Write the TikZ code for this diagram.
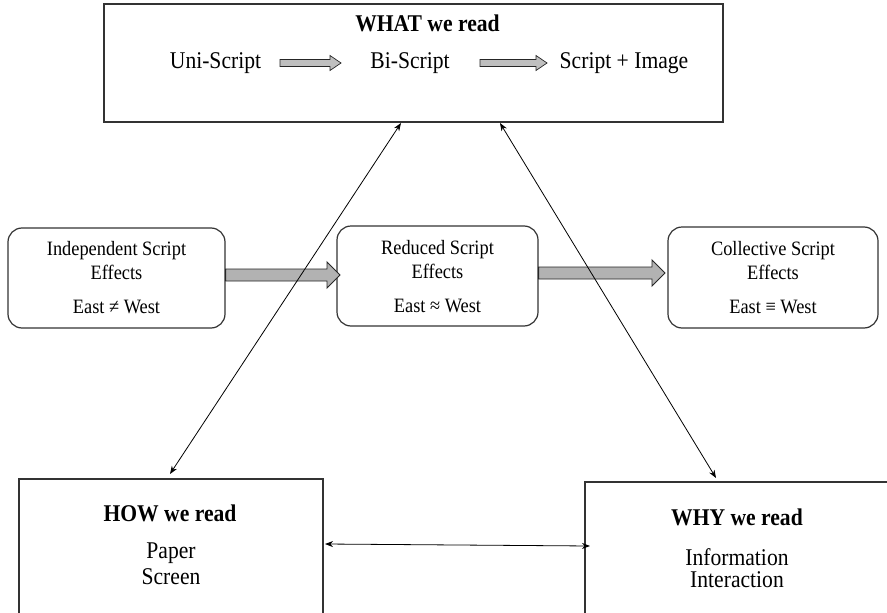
\documentclass[tikz,border=0pt]{standalone}
\usepackage{fontspec}
\setmainfont[FakeStretch=0.9]{Liberation Serif}
\usetikzlibrary{arrows.meta,calc}
\begin{document}
\begin{tikzpicture}[x=1pt,y=-1pt,
  box/.style={draw=black!80,line width=1.2pt,inner sep=0pt},
  roundbox/.style={box,rounded corners=14pt},
  txt/.style={inner sep=0pt,font=\fontsize{20.4}{24}\selectfont},
  bigtxt/.style={inner sep=0pt,font=\fontsize{24}{28}\selectfont},
  ttl/.style={inner sep=0pt,font=\fontsize{24}{28}\selectfont\bfseries},
  link/.style={line width=0.8pt,{Stealth[length=8pt,width=6pt]}-{Stealth[length=8pt,width=6pt]}},
  blockarrow/.style={draw=black!85,fill=black!30,line width=0.9pt,line join=miter}]
\useasboundingbox (0,0) rectangle (887,613);
\fill[white] (0,0) rectangle (887,613);

% top box
\node[box,minimum width=619pt,minimum height=118pt] (what) at (413.5,63) {};
\node[ttl] (whatT) at (427.5,23) {WHAT we read};
\node[bigtxt] (uni) at (215.5,63) {Uni-Script};
\node[bigtxt] (bi) at (410,63) {Bi-Script};
\node[bigtxt] (img) at (624,63) {Script + Image};

% small block arrows in the top row
\foreach \a/\b in {280/341,480/547}{
  \draw[draw=black!85,fill=black!25,line width=0.7pt]
    (\a,59.5) -- (\b-11,59.5) -- (\b-11,55.5) -- (\b,63) -- (\b-11,70.5) -- (\b-11,66.5) -- (\a,66.5) -- cycle;
}

% middle boxes
\node[roundbox,minimum width=217pt,minimum height=100pt] (ind) at (116.5,278) {};
\node[txt] (indA) at (116.5,251) {Independent Script};
\node[txt] (indB) at (116.5,272) {Effects};
\node[txt] (indC) at (116.5,307) {East ≠ West};

\node[roundbox,minimum width=201pt,minimum height=100pt] (red) at (437.5,276) {};
\node[txt] (redA) at (437.5,250) {Reduced Script};
\node[txt] (redB) at (437.5,271) {Effects};
\node[txt] (redC) at (437.5,306) {East ≈ West};

\node[roundbox,minimum width=210pt,minimum height=101pt] (col) at (773,277.5) {};
\node[txt] (colA) at (773,251) {Collective Script};
\node[txt] (colB) at (773,272) {Effects};
\node[txt] (colC) at (773,307) {East ≡ West};

% wide block arrows between the middle boxes
\path (ind.east) coordinate (ia);
\path (red.east) coordinate (ra);
\draw[blockarrow] (ia |- 0,269) -- (327,269) -- (327,262) -- (340,275) -- (327,288) -- (327,281) -- (ia |- 0,281) -- cycle;
\draw[blockarrow] (ra |- 0,267) -- (652,267) -- (652,260) -- (665,273) -- (652,286) -- (652,279) -- (ra |- 0,279) -- cycle;

% bottom boxes (running past the page edge)
\node[box,minimum width=304pt,minimum height=140pt] (how) at (171,549) {};
\node[ttl] (howT) at (170,513) {HOW we read};
\node[bigtxt] (howA) at (171,553) {Paper};
\node[bigtxt] (howB) at (171,577) {Screen};

\node[box,minimum width=308pt,minimum height=138pt] (why) at (739,551) {};
\node[ttl] (whyT) at (737,517) {WHY we read};
\node[bigtxt] (whyA) at (737,557) {Information};
\node[bigtxt] (whyB) at (737,580) {Interaction};

% connectors between the three corners
\coordinate (wl) at (401,123);
\coordinate (wr) at (500,123);
\coordinate (ht) at (170,474);
\coordinate (yt) at (716,478);
\coordinate (hr) at (325,544);
\coordinate (yl) at (590,546);
\draw[link] (ht) -- (wl);
\draw[link] (wr) -- (yt);
\draw[link] (hr) -- (yl);
\end{tikzpicture}
\end{document}
